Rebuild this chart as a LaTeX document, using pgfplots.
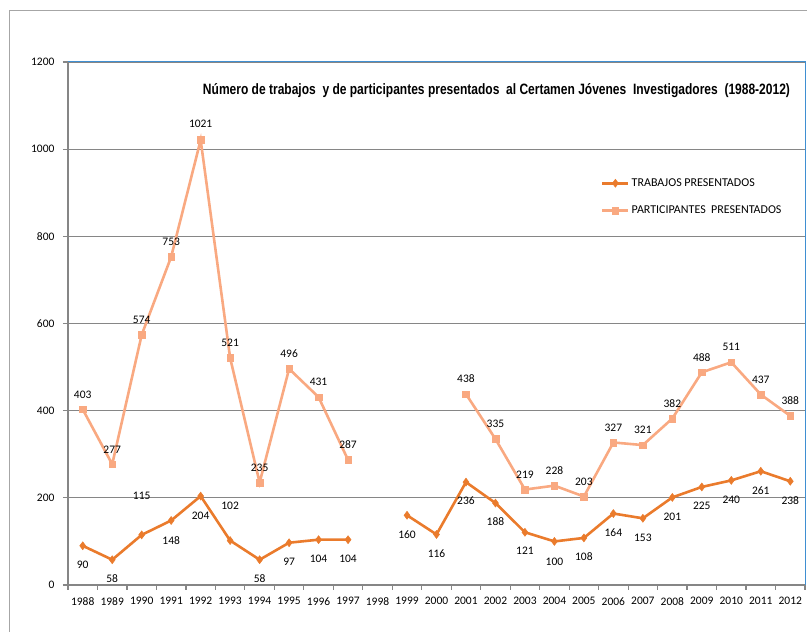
\documentclass[border=0pt]{standalone}
\usepackage{fontspec}
\usepackage{graphicx}
\usepackage{pgfplots}
\usepackage{pgfplotstable}
\pgfplotsset{compat=1.18}
\setmainfont{Carlito}
\newfontfamily\titfont{Liberation Sans}

\definecolor{trab}{HTML}{EA7B2C}
\definecolor{part}{HTML}{F9A981}
\definecolor{gridc}{HTML}{868686}
\definecolor{boxblue}{HTML}{3F8FD2}
\definecolor{framec}{HTML}{A6A6A6}

\pgfkeys{/pgf/number format/1000 sep={}, /pgf/number format/assume math mode=true}

% year index, value, label offset (pt)
\pgfplotstableread{
x y dy
0 90 -19
1 58 -19
2 115 39
3 148 -20
4 204 -20
5 102 35
6 58 -19
7 97 -19
8 104 -19
9 104 -19
10 nan 0
11 160 -19
12 116 -19
13 236 -19
14 188 -19
15 121 -19
16 100 -20
17 108 -19
18 164 -19
19 153 -19
20 201 -19
21 225 -19
22 240 -19
23 261 -19
24 238 -19
}\trabajos

\pgfplotstableread{
x y dy
0 403 15
1 277 15
2 574 15
3 753 15
4 1021 16
5 521 15
6 235 15
7 496 15
8 431 15
9 287 15
10 nan 0
11 nan 0
12 nan 0
13 438 15
14 335 15
15 219 15
16 228 15
17 203 15
18 327 15
19 321 15
20 382 15
21 488 15
22 511 15
23 437 15
24 388 15
}\participantes

\begin{document}
\begin{tikzpicture}[x=1pt,y=1pt]
\path[use as bounding box] (0,0) rectangle (807,632);
\draw[framec, line width=1pt] (9.5,0) -- (9.5,621.5) -- (807,621.5);
\begin{axis}[
    at={(68pt,47pt)}, anchor=south west,
    scale only axis, width=737pt, height=523pt,
    xmin=-0.5, xmax=24.5, ymin=0, ymax=1200,
    ytick={0,200,...,1200},
    xtick={0,...,24},
    xticklabels={1988,1989,1990,1991,1992,1993,1994,1995,1996,1997,1998,1999,2000,2001,2002,2003,2004,2005,2006,2007,2008,2009,2010,2011,2012},
    minor xtick={-0.5,0.5,...,24.5},
    major x tick style={draw=none},
    minor tick length=5pt, major tick length=5pt,
    tick align=outside,
    tick style={gridc, line width=1.2pt},
    axis x line*=bottom, axis y line*=left,
    axis line style={gridc, line width=1.3pt, -},
    ymajorgrids,
    major grid style={gridc, line width=1.3pt},
    tick label style={font=\fontsize{11.5}{13}\selectfont},
    xticklabel style={yshift=-4pt},
    yticklabel style={xshift=-5pt},
    unbounded coords=jump,
    clip=false,
    nodes near coords,
    every node near coord/.style={font=\fontsize{11.5}{13}\selectfont, text=black, anchor=center, yshift=\labdy pt},
    visualization depends on={\thisrow{dy}\as\labdy},
    legend style={at={(0.719,0.785)}, anchor=north west, draw=none, fill=none,
        font=\fontsize{12}{14}\selectfont, row sep=14pt},
    legend cell align=left,
    legend image code/.code={\draw[mark repeat=2,mark phase=2,#1] plot coordinates {(0pt,0pt)(13pt,0pt)(26pt,0pt)};},
]
\addplot[trab, line width=2.6pt, mark=diamond*, mark size=4pt, mark options={line width=0.5pt}]
    table[x=x, y=y] {\trabajos};
\addlegendentry{TRABAJOS PRESENTADOS}
\addplot[part, line width=2.6pt, mark=square*, mark size=3.3pt, mark options={line width=0.5pt}]
    table[x=x, y=y] {\participantes};
\addlegendentry{PARTICIPANTES\ \ PRESENTADOS}
\draw[boxblue, line width=1pt] (rel axis cs:0,1) -- (rel axis cs:1,1) -- (rel axis cs:1,0);
\end{axis}
\node[anchor=base, inner sep=0] at (496.5,537) {\resizebox{587pt}{\height}{\titfont\bfseries\fontsize{15}{17}\selectfont N\'umero de trabajos\ \ y de participantes presentados\ \ al Certamen J\'ovenes\ \ Investigadores\ \ (1988-2012)}};
\end{tikzpicture}
\end{document}
